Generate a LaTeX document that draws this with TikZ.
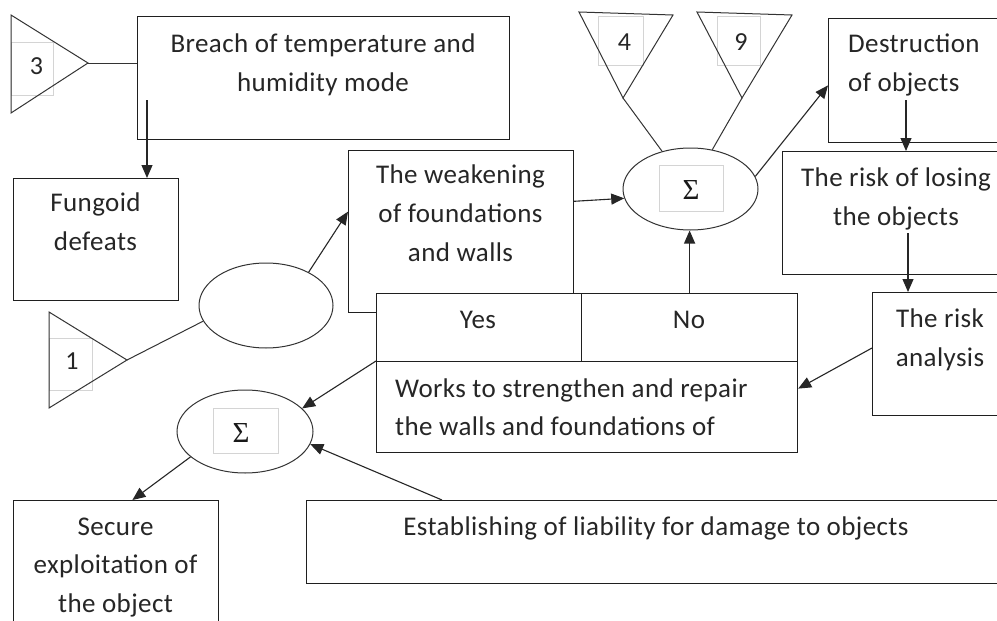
\documentclass[tikz,border=0pt]{standalone}
\usepackage{fontspec}
\setmainfont{Carlito}[LetterSpace=1.5]
\newfontfamily\sigfont{Liberation Serif}
\usetikzlibrary{shapes.geometric,arrows.meta,calc}
\newcommand\topfix{\rule{0pt}{21pt}}
\begin{document}
\begin{tikzpicture}[x=1pt,y=-1pt,
  box/.style={draw=black!88, line width=1.2pt, fill=white, rectangle, inner sep=0pt, anchor=north west},
  oval/.style={draw=black!80, line width=1pt, ellipse, inner sep=0pt},
  txt/.style={inner sep=0pt, font=\fontsize{27}{39}\selectfont, text=black!85, anchor=north, align=center},
  ltxt/.style={txt, anchor=north west, align=left},
  num/.style={inner sep=0pt, font=\fontsize{26}{30}\selectfont, text=black!85},
  sig/.style={inner sep=0pt, font=\sigfont\fontsize{29}{30}\selectfont, text=black!90},
  gbox/.style={draw=black!17, line width=0.8pt},
  tri/.style={draw=black!80, line width=1pt, line join=miter},
  arr/.style={draw=black!85, line width=1.1pt, -{Triangle[length=13pt,width=11pt]}},
  ln/.style={draw=black!80, line width=1pt}]
\useasboundingbox (0,0) rectangle (997,621);
\clip (0,0) rectangle (997,621);
\fill[white] (0,0) rectangle (997,621);

% boxes
\node[box, minimum width=372, minimum height=123] (breach) at (137,16) {};
\node[box, minimum width=165, minimum height=122] (fung) at (13,178) {};
\node[box, minimum width=225, minimum height=162] (weak) at (348,150) {};
\node[box, minimum width=205, minimum height=68] (yes) at (376,293) {};
\node[box, minimum width=216, minimum height=68] (no) at (581,293) {};
\node[box, minimum width=421, minimum height=91] (works) at (376,361) {};
\node[box, minimum width=182, minimum height=124] (destr) at (828,18) {};
\node[box, minimum width=228, minimum height=123] (rlose) at (782,151) {};
\node[box, minimum width=138, minimum height=123] (ranal) at (872,292) {};
\node[box, minimum width=205, minimum height=140] (secure) at (13,500) {};
\node[box, minimum width=704, minimum height=83] (estab) at (306,500) {};

% ellipses
\node[oval, minimum width=134, minimum height=85] (e1) at (266,305.5) {};
\node[oval, minimum width=135, minimum height=82] (sigtop) at (690.5,189) {};
\node[oval, minimum width=136, minimum height=83] (sigbot) at (245,431.5) {};

% light inner boxes
\draw[gbox] (11,42) rectangle (53,95);
\draw[gbox] (49,338) rectangle (92,390);
\draw[gbox] (598,16) rectangle (643,65);
\draw[gbox] (717,16) rectangle (760,65);
\draw[gbox] (659,165) rectangle (723,211);
\draw[gbox] (213,408) rectangle (278,453);

% triangles
\coordinate (t3) at (88,63);
\coordinate (t1) at (127,360);
\coordinate (t4) at (623,98);
\coordinate (t9) at (742,98);
\draw[tri] (11,15) -- (11,113) -- (t3) -- cycle;
\draw[tri] (49,312) -- (49,408) -- (t1) -- cycle;
\draw[tri] (579,12) -- (673,15) -- (t4) -- cycle;
\draw[tri] (697,12) -- (792,15) -- (t9) -- cycle;

% texts
\node[num] (n3) at (36.5,66.5) {3};
\node[num] (n1) at (72,361.5) {1};
\node[num] (n4) at (624.5,42) {4};
\node[num] (n9) at (741,42) {9};
\node[sig] (s1) at (691,190) {Σ};
\node[sig] (s2) at (241,433) {Σ};
\node[txt] (tbreach) at (323,31) {\topfix Breach of temperature and\\humidity mode};
\node[txt] (tfung) at (95.5,190) {\topfix Fungoid\\defeats};
\node[txt] (tweak) at (460.5,162) {\topfix The weakening\\of foundations\\and walls};
\node[txt] (tyes) at (478,307) {\topfix Yes};
\node[txt] (tno) at (689,307) {\topfix No};
\node[ltxt, font=\fontsize{27}{38}\selectfont] (tworks) at (395,376) {\topfix Works to strengthen and repair\\the walls and foundations of};
\node[ltxt] (tdestr) at (848,31) {\topfix Destruction\\of objects};
\node[txt] (trlose) at (896,165) {\topfix The risk of losing\\the objects};
\node[txt] (tranal) at (940,306) {\topfix The risk\\analysis};
\node[txt, font=\fontsize{27}{38.5}\selectfont] (tsecure) at (115.5,514) {\topfix Secure\\exploitation of\\the object};
\node[txt] (testab) at (656,514) {\topfix Establishing of liability for damage to objects};

% connectors
\draw[ln] (t3) -- (t3 -| breach.west);
\coordinate (b1) at (147,100);
\draw[arr] (b1) -- (b1 |- fung.north);
\draw[ln] (t1) -- (e1.194);
\draw[arr] (e1.38) -- (weak.170);
\draw[arr] (weak.15) -- (sigtop.188);
\draw[ln] (t4) -- (sigtop.127);
\draw[ln] (t9) -- (sigtop.61);
\draw[arr] (sigtop.11) -- (destr.183);
\coordinate (d1) at (906,100);
\draw[arr] (d1) -- (d1 |- rlose.north);
\coordinate (r1) at (908,233);
\draw[arr] (r1) -- (r1 |- ranal.north);
\draw[arr] (ranal.175) -- (works.5);
\draw[arr] (no.north) -- (no.north |- sigtop.south);
\draw[arr] (works.north west) -- (sigbot.22);
\draw[arr] (sigbot.205) -- (secure.77);
\draw[arr] (estab.169.4) -- (sigbot.349);
\end{tikzpicture}
\end{document}
